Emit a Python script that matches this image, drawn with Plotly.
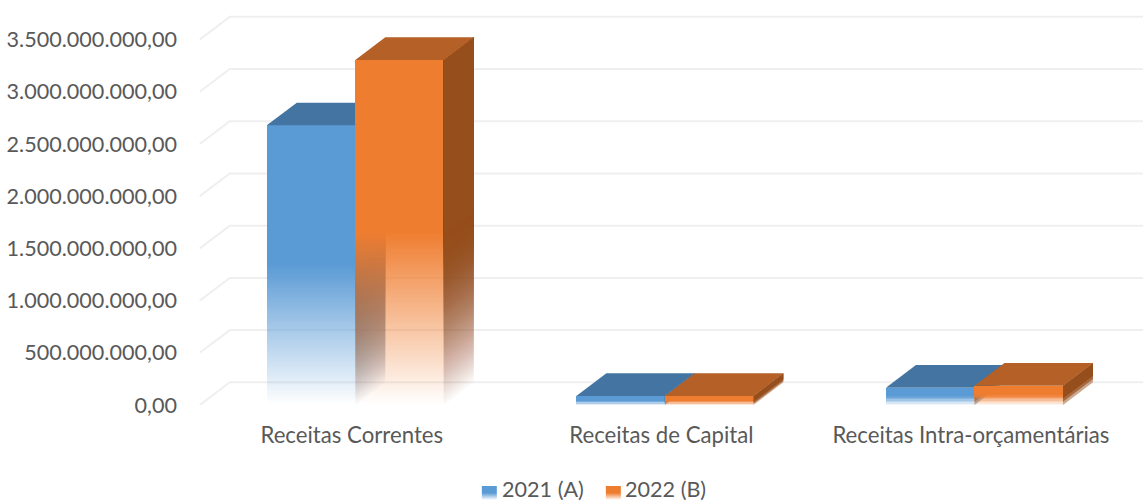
import plotly.graph_objects as go

# Revenue by origin, in BRL
categories = ["Receitas Correntes", "Receitas de Capital", "Receitas Intra-orçamentárias"]
series_names = ["2021 (A)", "2022 (B)"]
values_2021 = [2_678_000_000, 86_000_000, 166_000_000]
values_2022 = [3_304_000_000, 86_000_000, 185_000_000]
tick_values = [0, 500_000_000, 1_000_000_000, 1_500_000_000, 2_000_000_000,
               2_500_000_000, 3_000_000_000, 3_500_000_000]
tick_labels = ["0,00", "500.000.000,00", "1.000.000.000,00", "1.500.000.000,00",
               "2.000.000.000,00", "2.500.000.000,00", "3.000.000.000,00", "3.500.000.000,00"]

WIDTH, HEIGHT = 1143, 501
LEFT, BOTTOM = 197.25, 96
CATEGORY_PX = 309.5
VALUE_PER_PX = 500_000_000 / 52.21

X_MIN = -0.5
X_MAX = X_MIN + (WIDTH - LEFT) / CATEGORY_PX
Y_MAX = (HEIGHT - BOTTOM) * VALUE_PER_PX

# Oblique projection of the depth axis
DEPTH_X = 30 / CATEGORY_PX
DEPTH_Y = 22.7 * VALUE_PER_PX
BAR_WIDTH = 88.5 / CATEGORY_PX
GROUP_SHIFT = 3.5 / CATEGORY_PX

FRONT_COLORS = [(91, 155, 213), (239, 125, 48)]
TOP_COLORS = [(68, 116, 161), (180, 96, 38)]
SIDE_COLORS = [(58, 99, 136), (150, 78, 28)]
SIDE_FADE_POWER = 1.7
GRID = "#EFEFEF"
TEXT = "#595959"
FONT = "Lato, Carlito, sans-serif"
TICK_SIZE = 21.6
CATEGORY_SIZE = 22.2

# Legend keys and labels, in page pixels
LEGEND_KEYS_PX = [482, 606]
LEGEND_TEXT_PX = [500, 623]
LEGEND_KEY_W, LEGEND_KEY_TOP, LEGEND_KEY_BOTTOM = 15, 486, 500
LEGEND_TEXT_Y = 489


def rgba(color, alpha):
    return f"rgba({color[0]},{color[1]},{color[2]},{alpha:.4f})"


def page_x(px):
    return (px - LEFT) / (WIDTH - LEFT)


def page_y(px):
    return ((HEIGHT - BOTTOM) - px) / (HEIGHT - BOTTOM)


def polygon(xs, ys, color, xa, ya):
    return go.Scatter(x=xs + xs[:1], y=ys + ys[:1], mode="lines", fill="toself",
                      fillcolor=color, line=dict(width=0), showlegend=False,
                      hoverinfo="skip", xaxis=xa, yaxis=ya)


fig = go.Figure()

# Back wall and left wall gridlines
grid_x, grid_y = [], []
for v in tick_values:
    grid_x += [X_MIN + 2.75 / CATEGORY_PX, X_MIN + 2.75 / CATEGORY_PX + DEPTH_X, X_MAX + 0.1, None]
    grid_y += [v, v + DEPTH_Y, v + DEPTH_Y, None]
fig.add_trace(go.Scatter(x=grid_x, y=grid_y, mode="lines", line=dict(color=GRID, width=2),
                         showlegend=False, hoverinfo="skip", xaxis="x", yaxis="y"))

series = [values_2021, values_2022]
for s, vals in enumerate(series):
    xa, ya = f"x{s + 2}", f"y{s + 2}"
    offset = GROUP_SHIFT + (s - 0.5) * BAR_WIDTH
    bar_x, bar_base, bar_h, bar_color = [], [], [], []

    for c, v in enumerate(vals):
        cx = c + offset
        right = cx + BAR_WIDTH / 2
        left = cx - BAR_WIDTH / 2
        fade = v / 2

        # Solid upper half of the front face
        bar_x.append(cx)
        bar_base.append(fade)
        bar_h.append(fade)
        bar_color.append(rgba(FRONT_COLORS[s], 1))

        # Lower half fades to transparent towards the floor
        n = max(3, int(fade / 12_000_000))
        for i in range(n):
            bar_x.append(cx)
            bar_base.append(fade * i / n)
            bar_h.append(fade / n)
            bar_color.append(rgba(FRONT_COLORS[s], (i + 0.5) / n))

        # Side face: nested translucent layers give its fade without seams
        m = max(3, int(fade / 25_000_000))
        remaining = 1.0
        for i in range(m):
            target = 1 - (1 - (i + 1) / m) ** SIDE_FADE_POWER
            lo = fade * i / m
            step_alpha = min(1 - (1 - target) / remaining, 1)
            remaining = 1 - target
            fig.add_trace(polygon(
                [right, right + DEPTH_X, right + DEPTH_X, right],
                [lo, lo + DEPTH_Y, v + DEPTH_Y, v],
                rgba(SIDE_COLORS[s], step_alpha), xa, ya))

        # Top face
        fig.add_trace(polygon(
            [left, right, right + DEPTH_X, left + DEPTH_X],
            [v, v, v + DEPTH_Y, v + DEPTH_Y],
            rgba(TOP_COLORS[s], 1), xa, ya))

    fig.add_trace(go.Bar(x=bar_x, y=bar_h, base=bar_base, width=BAR_WIDTH,
                         name=series_names[s], marker=dict(color=bar_color, line=dict(width=0)),
                         hoverinfo="skip", showlegend=False, xaxis=xa, yaxis=ya))

# Legend keys carry the same fade as the bars
legend_shapes = []
annotations = []
for s, name in enumerate(series_names):
    rows = LEGEND_KEY_BOTTOM - LEGEND_KEY_TOP
    for r in range(rows):
        alpha = min(1.0, (rows - r - 0.5) / (rows / 2))
        legend_shapes.append(dict(
            type="rect", xref="paper", yref="paper", line=dict(width=0),
            x0=page_x(LEGEND_KEYS_PX[s]), x1=page_x(LEGEND_KEYS_PX[s] + LEGEND_KEY_W),
            y0=page_y(LEGEND_KEY_TOP + r), y1=page_y(LEGEND_KEY_TOP + r + 1),
            fillcolor=rgba(FRONT_COLORS[s], alpha)))
    annotations.append(dict(
        text=name, xref="paper", yref="paper", showarrow=False,
        x=page_x(LEGEND_TEXT_PX[s]), xanchor="left",
        y=page_y(LEGEND_TEXT_Y), yanchor="middle",
        font=dict(size=TICK_SIZE, color=TEXT)))

x_common = dict(range=[X_MIN, X_MAX], showgrid=False, zeroline=False, showline=False)
y_common = dict(range=[0, Y_MAX], showgrid=False, zeroline=False, showline=False)

fig.update_layout(
    width=WIDTH, height=HEIGHT, barmode="overlay", bargap=0, showlegend=False,
    paper_bgcolor="white", plot_bgcolor="white",
    margin=dict(l=LEFT, r=0, t=0, b=BOTTOM, autoexpand=False),
    font=dict(family=FONT, size=TICK_SIZE, color=TEXT),
    shapes=legend_shapes, annotations=annotations,
    xaxis=dict(**x_common, tickmode="array", tickvals=[0, 1, 2], ticktext=categories,
               ticks="", ticklabelstandoff=15, tickfont=dict(size=CATEGORY_SIZE, color=TEXT)),
    yaxis=dict(**y_common, tickmode="array", tickvals=tick_values, ticktext=tick_labels,
               ticks="", ticklabelstandoff=19, tickfont=dict(size=TICK_SIZE, color=TEXT)),
    xaxis2=dict(**x_common, overlaying="x", visible=False),
    yaxis2=dict(**y_common, overlaying="y", visible=False),
    xaxis3=dict(**x_common, overlaying="x", visible=False),
    yaxis3=dict(**y_common, overlaying="y", visible=False),
)

fig.write_html("out.html")
